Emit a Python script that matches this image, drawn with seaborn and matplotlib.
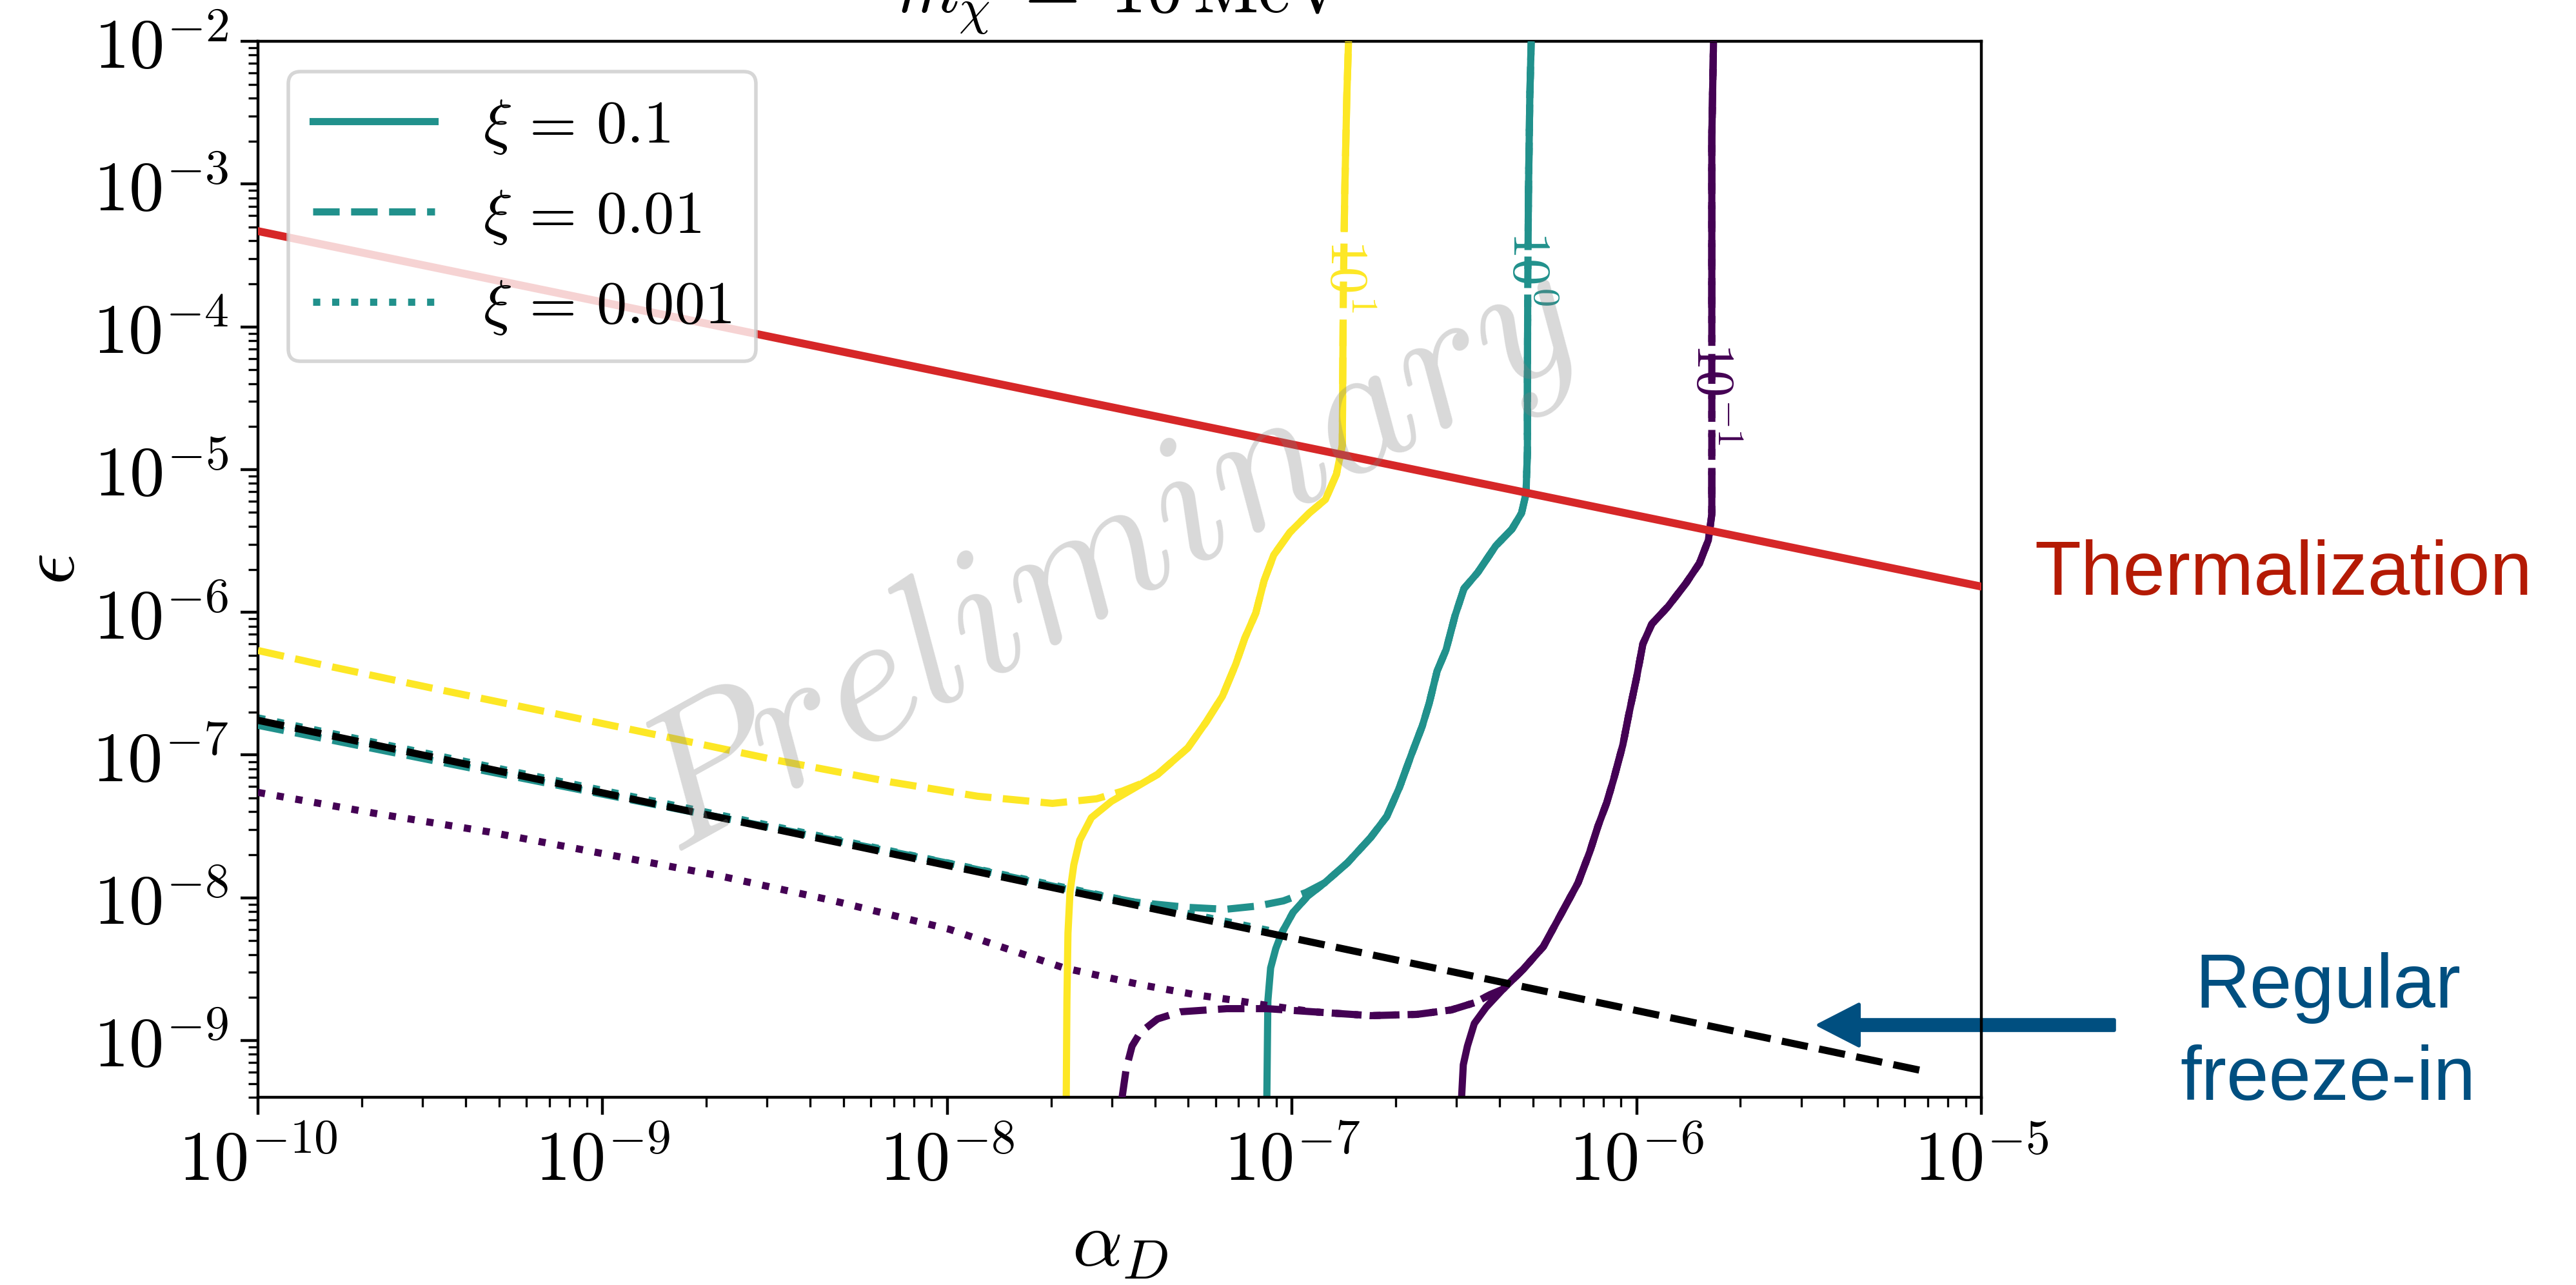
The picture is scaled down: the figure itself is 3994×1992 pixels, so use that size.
import numpy as np
import matplotlib
matplotlib.use("Agg")
import matplotlib.pyplot as plt
import seaborn as sns
from matplotlib.lines import Line2D
from matplotlib.ticker import LogLocator, FuncFormatter, NullFormatter

plt.rcParams["mathtext.fontset"] = "cm"

# ---------------- data (log10 of alpha_D and epsilon) ----------------
levels = [0.1, 1.0, 10.0]
level_colors = ["#440154", "#21918c", "#fde725"]
xi_values = [0.1, 0.01, 0.001]
xi_styles = ["-", "--", ":"]

# xi = 0.1 contours (solid)
yel_solid_la = [-7.655, -7.653, -7.650, -7.644, -7.633, -7.616, -7.582, -7.524, -7.457, -7.390,
                -7.302, -7.249, -7.202, -7.163, -7.137, -7.105, -7.081, -7.053, -7.006, -6.950,
                -6.903, -6.871, -6.854, -6.853, -6.851, -6.847, -6.841, -6.836]
yel_solid_le = [-9.40, -8.718, -8.248, -7.958, -7.769, -7.597, -7.439, -7.325, -7.231, -7.136,
                -6.950, -6.769, -6.589, -6.363, -6.182, -6.005, -5.779, -5.599, -5.440, -5.305,
                -5.210, -5.033, -4.830, -4.423, -3.745, -3.067, -2.389, -2.0]

teal_solid_la = [-7.073, -7.071, -7.070, -7.062, -7.047, -7.030, -6.997, -6.955, -6.905, -6.839,
                 -6.772, -6.725, -6.688, -6.654, -6.622, -6.602, -6.579, -6.553, -6.527, -6.501,
                 -6.461, -6.409, -6.362, -6.334, -6.321, -6.317, -6.317, -6.316, -6.314, -6.310, -6.306]
teal_solid_le = [-9.40, -8.944, -8.722, -8.492, -8.356, -8.248, -8.103, -7.990, -7.895, -7.755,
                 -7.579, -7.430, -7.226, -7.000, -6.797, -6.638, -6.412, -6.263, -6.024, -5.834,
                 -5.721, -5.535, -5.418, -5.305, -5.169, -4.875, -4.423, -3.745, -3.067, -2.389, -2.0]

purp_solid_la = [-6.508, -6.503, -6.491, -6.471, -6.437, -6.388, -6.329, -6.271, -6.220, -6.170,
                 -6.136, -6.112, -6.087, -6.067, -6.040, -6.022, -6.001, -5.982, -5.956, -5.909,
                 -5.857, -5.818, -5.792, -5.782, -5.782, -5.782, -5.782, -5.782, -5.777]
purp_solid_le = [-9.40, -9.170, -9.039, -8.881, -8.768, -8.641, -8.501, -8.343, -8.117, -7.895,
                 -7.678, -7.497, -7.335, -7.172, -6.928, -6.706, -6.467, -6.222, -6.082, -5.960,
                 -5.797, -5.657, -5.495, -5.314, -4.875, -3.971, -3.293, -2.674, -2.0]

# xi = 0.01 contours (dashed): low-alpha branches before they join the solid ones
yel_dash_la = [-10.0, -9.833, -9.498, -9.164, -8.877, -8.496, -8.162, -7.912, -7.695, -7.567, -7.492, -7.436]
yel_dash_le = [-6.268, -6.358, -6.530, -6.697, -6.842, -7.036, -7.190, -7.289, -7.339, -7.307, -7.253, -7.199]

teal_dash_la = [-10.0, -9.498, -8.997, -8.496, -7.994, -7.661, -7.455, -7.305, -7.193, -7.100, -7.025, -6.959]
teal_dash_le = [-6.792, -7.036, -7.276, -7.515, -7.760, -7.936, -8.031, -8.067, -8.081, -8.058, -8.022, -7.963]

purp_dash_la = [-7.493, -7.481, -7.464, -7.440, -7.390, -7.324, -7.189, -7.073, -6.939, -6.772,
                -6.637, -6.538, -6.471, -6.420]
purp_dash_le = [-9.40, -9.197, -9.039, -8.944, -8.849, -8.799, -8.777, -8.777, -8.799, -8.826,
                -8.817, -8.786, -8.736, -8.673]

# xi = 0.001 contours (dotted)
teal_dot_la = [-10.0, -7.030]
teal_dot_le = [-6.740, -8.248]

purp_dot_la = [-10.0, -9.665, -9.332, -8.997, -8.664, -8.329, -7.994, -7.829, -7.661, -7.440,
               -7.274, -7.156, -7.073]
purp_dot_le = [-7.262, -7.407, -7.538, -7.692, -7.845, -8.022, -8.221, -8.356, -8.492, -8.609,
               -8.682, -8.722, -8.754]

# regular freeze-in and thermalization lines
freezein_la = [-10.0, -5.163]
freezein_le = [-6.757, -9.216]
therm_la = [-10.0, -5.0]
therm_le = [-3.33, -5.82]

# inline contour-label positions on the solid curves
label_la = [-5.782, -6.315, -6.845]
label_le = [-4.468, -3.591, -3.646]
label_pad = [6.5, 2.5, 2.5]


def join_on_eps(b_la, b_le, h_la, h_le):
    keep = [i for i, e in enumerate(h_le) if e > b_le[-1]]
    return list(b_la) + [h_la[i] for i in keep], list(b_le) + [h_le[i] for i in keep]


def join_on_alpha(b_la, b_le, h_la, h_le):
    keep = [i for i, a in enumerate(h_la) if a > b_la[-1]]
    return list(b_la) + [h_la[i] for i in keep], list(b_le) + [h_le[i] for i in keep]


def level_text(v):
    return r"$10^{%d}$" % int(np.round(np.log10(v)))


# ---------------- figure ----------------
fig = plt.figure(figsize=(3994 / 400, 1992 / 400), dpi=400)
ax = fig.add_axes([400 / 3994, 1 - 1701 / 1992, 2672 / 3994, 1637 / 1992])
ax.set_xscale("log")
ax.set_yscale("log")


def draw(la, le, color, ls, lw=2.0, z=2):
    sns.lineplot(x=10 ** np.asarray(la), y=10 ** np.asarray(le), color=color,
                 linestyle=ls, linewidth=lw, sort=False, estimator=None, ax=ax, zorder=z)


solid_curves = [(purp_solid_la, purp_solid_le), (teal_solid_la, teal_solid_le),
                (yel_solid_la, yel_solid_le)]

# xi = 0.1
for (la, le), c in zip(solid_curves, level_colors):
    draw(la, le, c, "-", z=2)

# contour labels on the solid set
for i, lev in enumerate(levels):
    ax.text(10 ** label_la[i], 10 ** label_le[i], level_text(lev), color=level_colors[i],
            fontsize=15, rotation=270, ha="center", va="center", zorder=2.3,
            bbox=dict(boxstyle=f"square,pad={label_pad[i] / 15:.3f}", facecolor="white",
                      edgecolor="none"))

# xi = 0.01
pd_la, pd_le = join_on_eps(purp_dash_la, purp_dash_le, purp_solid_la, purp_solid_le)
td_la, td_le = join_on_eps(teal_dash_la, teal_dash_le, teal_solid_la, teal_solid_le)
yd_la, yd_le = join_on_eps(yel_dash_la, yel_dash_le, yel_solid_la, yel_solid_le)
for (la, le), c in zip([(pd_la, pd_le), (td_la, td_le), (yd_la, yd_le)], level_colors):
    draw(la, le, c, "--", z=2.6)

# xi = 0.001
po_la, po_le = join_on_alpha(purp_dot_la, purp_dot_le, purp_dash_la, purp_dash_le)
po_la, po_le = join_on_eps(po_la, po_le, purp_solid_la, purp_solid_le)
to_la, to_le = join_on_eps(teal_dot_la, teal_dot_le, teal_solid_la, teal_solid_le)
draw(po_la, po_le, level_colors[0], ":", z=2.6)
draw(to_la, to_le, level_colors[1], ":", z=2.5)

# regular freeze-in and thermalization
draw(freezein_la, freezein_le, "black", "--", lw=2.0, z=2.7)
draw(therm_la, therm_le, "#d62728", "-", lw=2.2, z=2.8)

ax.set_xlim(1e-10, 1e-5)
ax.set_ylim(4e-10, 1e-2)

fmt = FuncFormatter(lambda v, pos: r"$10^{%d}$" % int(np.round(np.log10(v))))
for axis in (ax.xaxis, ax.yaxis):
    axis.set_major_locator(LogLocator(base=10, numticks=30))
    axis.set_minor_locator(LogLocator(base=10, subs=np.arange(2, 10), numticks=300))
    axis.set_major_formatter(fmt)
    axis.set_minor_formatter(NullFormatter())
ax.tick_params(which="major", length=4.8, width=0.8, labelsize=19.5)
ax.tick_params(which="minor", length=2.7, width=0.6)

ax.set_xlabel(r"$\alpha_D$", fontsize=22, labelpad=3)
ax.set_ylabel(r"$\epsilon$", fontsize=22, labelpad=0.5)
ax.set_title(r"$m_\chi \;=\; 10\,\mathrm{MeV}$", fontsize=20, pad=8)

handles = [Line2D([], [], color=level_colors[1], lw=2, ls=s) for s in xi_styles]
ax.legend(handles, [rf"$\xi \,=\, {x:g}$" for x in xi_values], loc="upper left", fontsize=17)

# watermark
ax.text(0.492, 0.512, r"$\mathit{Preliminary}$", transform=ax.transAxes, fontsize=53,
        rotation=29, color="gray", alpha=0.3, ha="center", va="center", zorder=10)

# annotations outside the frame
ax.text(1.031, 0.4759, "Thermalization", transform=ax.transAxes, fontsize=21.2,
        family="Liberation Sans", color="#b41a04", ha="left", va="baseline", clip_on=False)
ax.text(1.2013, 0.0849, "Regular", transform=ax.transAxes, fontsize=21.2,
        family="Liberation Sans", color="#004f80", ha="center", va="baseline", clip_on=False)
ax.text(1.2013, -0.0024, "freeze-in", transform=ax.transAxes, fontsize=21.2,
        family="Liberation Sans", color="#004f80", ha="center", va="baseline", clip_on=False)
ax.annotate("", xy=(0.9057, 0.0684), xytext=(1.0771, 0.0684), xycoords="axes fraction",
            textcoords="axes fraction", annotation_clip=False, zorder=2,
            arrowprops=dict(width=2.9, headwidth=11.5, headlength=11.2, color="#004f80",
                            shrink=0.0))

fig.savefig("out.png", dpi=400)
